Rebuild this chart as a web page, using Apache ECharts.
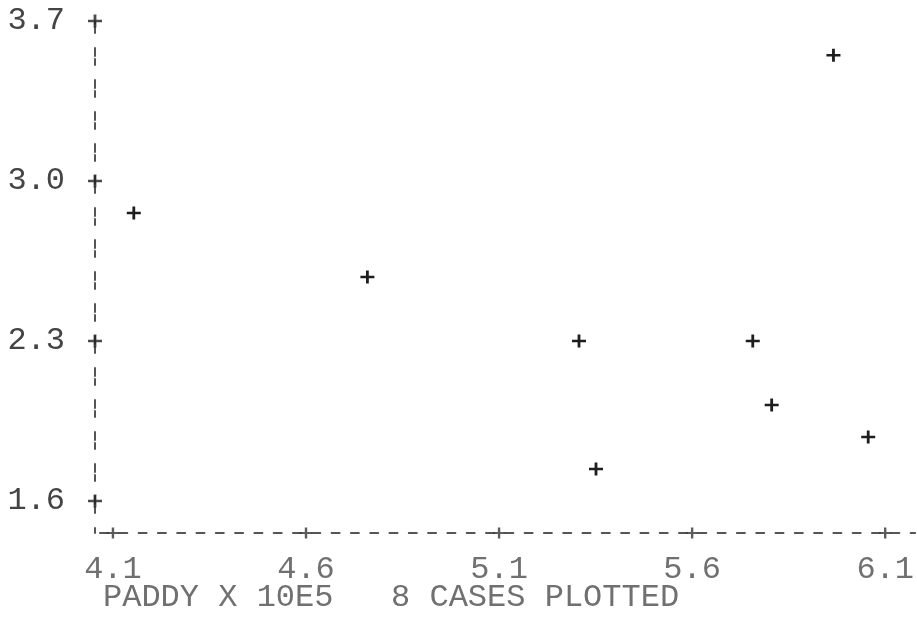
<!DOCTYPE html>
<html>
<head>
<meta charset="utf-8">
<script src="https://cdn.jsdelivr.net/npm/echarts@6/dist/echarts.min.js"></script>
<style>
html,body{margin:0;padding:0;background:#fff;}
#chart{width:917px;height:618px;}
</style>
</head>
<body>
<div id="chart"></div>
<script>
// Data
const paddyX = [4.154, 4.759, 5.307, 5.351, 5.757, 5.806, 5.966, 6.056];
const valueY = [2.86, 2.58, 2.30, 1.74, 2.30, 2.02, 3.55, 1.88];
const xTicks = [4.1, 4.6, 5.1, 5.6, 6.1];
const yTicks = [3.7, 3.0, 2.3, 1.6];
const footer = 'PADDY X 10E5   8 CASES PLOTTED';

const xMin = 4.0535, xMax = 6.1775;
const yMin = 1.46, yMax = 3.7;

const plusPath = 'path://M4,0h2v4h4v2h-4v4h-2v-4h-4v-2h4z';
const FONT = '"Liberation Mono", "DejaVu Sans Mono", monospace';

const points = paddyX.map((x, i) => [x, valueY[i]]);
const yTickMarks = yTicks.map(v => [xMin, v]);
const xTickMarks = xTicks.map(v => [v, yMin]);

const chart = echarts.init(document.getElementById('chart'), null, {renderer: 'canvas'});
chart.setOption({
  backgroundColor: '#ffffff',
  animation: false,
  grid: {left: 95, right: 0, top: 21, bottom: 85, containLabel: false},
  xAxis: {
    type: 'value', min: xMin, max: xMax,
    splitLine: {show: false},
    axisLine: {show: true, lineStyle: {color: '#555', width: 2, type: [8, 11.3], dashOffset: -5}},
    axisTick: {show: false},
    axisLabel: {
      customValues: xTicks,
      formatter: v => v.toFixed(1),
      margin: 21,
      color: '#707070',
      fontFamily: FONT,
      fontSize: 32
    }
  },
  yAxis: {
    type: 'value', min: yMin, max: yMax,
    splitLine: {show: false},
    axisLine: {show: true, lineStyle: {color: '#555', width: 2, type: [6, 3, 8, 15], dashOffset: -20}},
    axisTick: {show: false},
    axisLabel: {
      customValues: yTicks,
      formatter: v => v.toFixed(1),
      margin: 30,
      color: '#444',
      fontFamily: FONT,
      fontSize: 32
    }
  },
  graphic: [{
    type: 'text', left: 103, top: 582,
    style: {text: footer, fill: '#707070', font: '32px ' + FONT}
  }],
  series: [
    {
      type: 'scatter', data: points, symbol: plusPath, symbolSize: [14, 13],
      itemStyle: {color: '#1e1e1e', opacity: 1}, clip: false, silent: true
    },
    {
      type: 'scatter', data: yTickMarks, symbol: plusPath, symbolSize: [14, 13],
      itemStyle: {color: '#1e1e1e'}, clip: false, silent: true
    },
    {
      type: 'scatter', data: xTickMarks, symbol: plusPath, symbolSize: [12, 11],
      itemStyle: {color: '#333'}, clip: false, silent: true
    }
  ]
});
</script>
</body>
</html>
